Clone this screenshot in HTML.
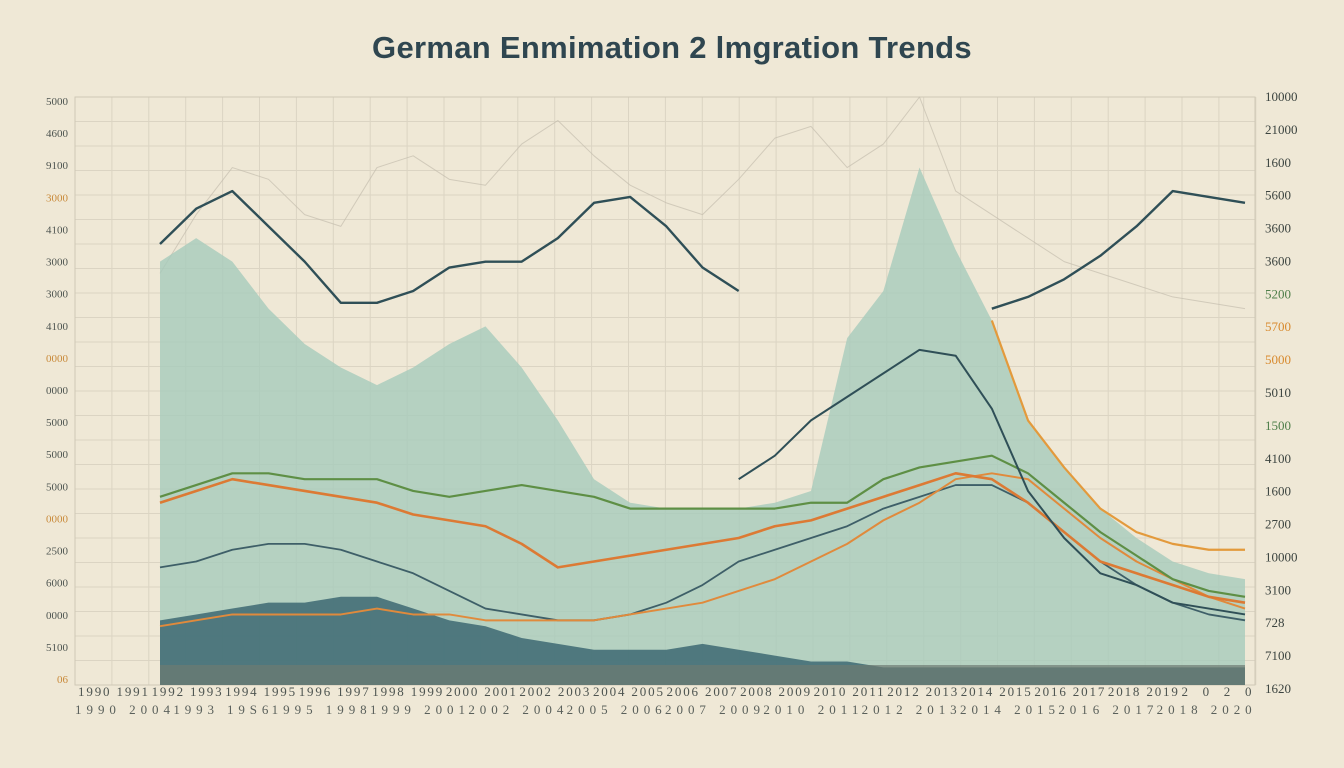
<!DOCTYPE html>
<html><head><meta charset="utf-8">
<style>
html,body{margin:0;padding:0;background:#efe8d6;}
body{width:1344px;height:768px;overflow:hidden;font-family:"Liberation Sans",sans-serif;}
#title{position:absolute;left:0;top:30px;width:1344px;text-align:center;font-size:31px;font-weight:bold;color:#2f4650;letter-spacing:0.3px;}
svg{position:absolute;left:0;top:0;}
</style></head>
<body>
<div id="title">German Enmimation 2 lmgration Trends</div>
<svg id="chart" width="1344" height="768"></svg>
<script>
const years=[1990,1991,1992,1993,1994,1995,1996,1997,1998,1999,2000,2001,2002,2003,2004,2005,2006,2007,2008,2009,2010,2011,2012,2013,2014,2015,2016,2017,2018,2019,2020];
const lightArea=[72,76,72,64,58,54,51,54,58,61,54,45,35,31,30,30,30,31,33,59,67,88,74,62,45,37,30,25,21,19,18];
const darkArea=[11,12,13,14,14,15,15,13,11,10,8,7,6,6,6,7,6,5,4,4,3,3,3,3,3,3,3,3,3,3,3];
const slateUpper=[75,81,84,78,72,65,65,67,71,72,72,76,82,83,78,71,67,null,null,null,null,null,null,64,66,69,73,78,84,83,82];
const slateLower=[null,null,null,null,null,null,null,null,null,null,null,null,null,null,null,null,35,39,45,49,53,57,56,47,33,25,19,17,14,13,12];
const orangeMain=[31,33,35,34,33,32,31,29,28,27,24,20,21,22,23,24,25,27,28,30,32,34,36,35,31,26,21,19,17,15,14];
const orangeFall=[null,null,null,null,null,null,null,null,null,null,null,null,null,null,null,null,null,null,null,null,null,null,null,62,45,37,30,26,24,23,23];
const greenLine=[32,34,36,36,35,35,35,33,32,33,34,33,32,30,30,30,30,30,31,31,35,37,38,39,36,31,26,22,18,16,15];
const orangeLow=[10,11,12,12,12,12,13,12,12,11,11,11,11,12,13,14,16,18,21,24,28,31,35,36,35,30,25,21,18,15,13];
const slateLow=[20,21,23,24,24,23,21,19,16,13,12,11,11,12,14,17,21,23,25,27,30,32,34,34,31,26,21,17,14,12,11];
const faintLine=[70,80,88,86,80,78,88,90,86,85,92,96,90,85,82,80,86,93,95,88,92,100,84,80,76,72,70,68,66,65,64];
const leftTicks=["5000","4600","9100","3000","4100","3000","3000","4100","0000","0000","5000","5000","5000","0000","2500","6000","0000","5100","06"];
const rightTicks=["10000","21000","1600","5600","3600","3600","5200","5700","5000","5010","1500","4100","1600","2700","10000","3100","728","7100","1620"];
const bottomRow1=["1990 1991","1992 1993","1994 1995","1996 1997","1998 1999","2000 2001","2002 2003","2004 2005","2006 2007","2008 2009","2010 2011","2012 2013","2014 2015","2016 2017","2018 2019","2020"];
const bottomRow2=["1990 2004","1993 19S6","1995 1998","1999 2001","2002 2004","2005 2006","2007 2009","2010 2011","2012 2013","2014 2015","2016 2017","2018 2020"];

const NS="http://www.w3.org/2000/svg";
const svg=document.getElementById('chart');
const X0=160,X1=1245,Y0=685,Y1=97;
function xs(i){return X0+i*(X1-X0)/(years.length-1);}
function ys(v){return Y0-v*(Y0-Y1)/100;}
function mk(tag,attrs){const e=document.createElementNS(NS,tag);for(const k in attrs)e.setAttribute(k,attrs[k]);svg.appendChild(e);return e;}

for(let x=75;x<=1256;x+=36.9){const l=mk('line',{x1:x,y1:97,x2:x,y2:685,stroke:'#dbd4c3','stroke-width':1});

}
for(let y=97;y<=686;y+=24.5){const l=mk('line',{x1:75,y1:y,x2:1255,y2:y,stroke:'#dbd4c3','stroke-width':1});

}
const fr=mk('rect',{x:75,y:97,width:1180,height:588,fill:'none',stroke:'#cfc8b6'});



function area(vals,fill,op,name){
  let d=`M${xs(0)},${ys(0)}`;vals.forEach((v,i)=>d+=`L${xs(i)},${ys(v)}`);d+=`L${xs(vals.length-1)},${ys(0)}Z`;
  const p=mk('path',{d:d,fill:fill,'fill-opacity':op});
  
  
}
function line(vals,stroke,w,name,op){
  let d='',pen=false;vals.forEach((v,i)=>{if(v===null){pen=false;return;}d+=(pen?'L':'M')+xs(i)+','+ys(v);pen=true;});
  const p=mk('path',{d:d,fill:'none',stroke:stroke,'stroke-width':w,'stroke-opacity':op||1,'stroke-linejoin':'round'});
  
  
}
line(faintLine,'#c4beae',1,'faint-trend-line',0.7);
area(lightArea,'#a6cabb',0.8,'emigration-area');
area(darkArea,'#3d6872',0.85,'immigration-area');
const gb=mk('rect',{x:160,y:665,width:1085,height:20,fill:'#6d7a72','fill-opacity':0.7});


line(slateLow,'#3e5f68',1.8,'slate-low-line');
line(orangeLow,'#e08a3c',2,'orange-low-line');
line(greenLine,'#5e8f45',2.2,'green-line');
line(orangeMain,'#dc7a34',2.6,'orange-main-line');
line(orangeFall,'#e39a3c',2.2,'orange-fall-line');
line(slateLower,'#2f4f57',2,'slate-lower-line');
line(slateUpper,'#2f4f57',2.4,'slate-upper-line');

leftTicks.forEach((t,i)=>{const y=101+i*(679-101)/(leftTicks.length-1);
 const e=mk('text',{x:68,y:y+4,'text-anchor':'end','font-size':11,fill:i%5==3?'#c98a3a':'#4d5450','font-family':'Liberation Serif, serif'});e.textContent=t;
 
 });
rightTicks.forEach((t,i)=>{const y=97+i*(689-97)/(rightTicks.length-1);
 const c=[7,8].includes(i)?'#d88a2e':([6,10].includes(i)?'#4f7f4a':'#3c4440');
 const e=mk('text',{x:1265,y:y+4,'font-size':13,fill:c,'font-family':'Liberation Serif, serif'});e.textContent=t;
 
 });
bottomRow1.forEach((t,i)=>{const x=78+i*(1255-78)/bottomRow1.length;
 const e=mk('text',{x:x,y:696,'font-size':13,fill:'#4d5450','font-family':'Liberation Serif, serif',textLength:70});e.textContent=t;
 
 });
bottomRow2.forEach((t,i)=>{const x=75+i*(1255-75)/bottomRow2.length;
 const e=mk('text',{x:x,y:714,'font-size':13,fill:'#5a605b','font-family':'Liberation Serif, serif',textLength:95});e.textContent=t;
 
 });
</script>
</body></html>
